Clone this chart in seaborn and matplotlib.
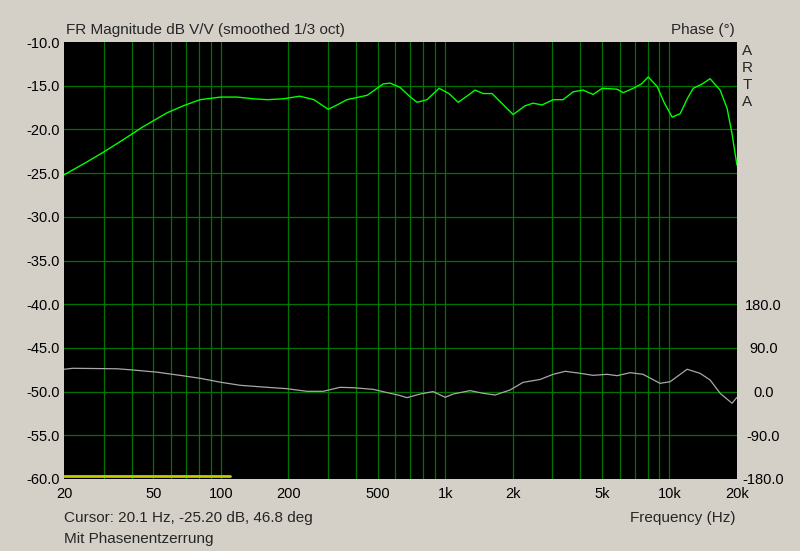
import numpy as np
import pandas as pd
import matplotlib
matplotlib.use("Agg")
import matplotlib.pyplot as plt
import seaborn as sns

# magnitude curve
mag_freq = [20, 25, 30, 36.6, 45, 57.6, 68, 80.8, 100, 118, 140, 161, 190, 225, 260, 301,
            330, 365, 449, 529, 568, 630, 700, 750, 830, 940, 1040, 1143, 1250, 1360, 1476,
            1618, 2009, 2271, 2466, 2705, 3029, 3356, 3720, 4120, 4567, 5012, 5843, 6219,
            6890, 7500, 8040, 8815, 9500, 10280, 11170, 12000, 12760, 14000, 15170, 16820,
            18070, 19000, 20000]
mag_db = [-25.2, -23.8, -22.6, -21.2, -19.7, -18.1, -17.3, -16.6, -16.3, -16.3, -16.5, -16.6,
          -16.5, -16.2, -16.6, -17.7, -17.2, -16.6, -16.1, -14.8, -14.7, -15.2, -16.3, -16.9,
          -16.6, -15.3, -15.9, -16.9, -16.2, -15.5, -15.9, -15.9, -18.3, -17.3, -17.0, -17.2,
          -16.6, -16.6, -15.7, -15.5, -16.0, -15.3, -15.4, -15.8, -15.3, -14.8, -14.0, -15.1,
          -17.0, -18.6, -18.2, -16.5, -15.3, -14.8, -14.2, -15.5, -17.6, -20.5, -24.1]

# phase curve (degrees)
ph_freq = [20, 21.9, 34.5, 40.6, 52, 65.8, 80.8, 100, 122, 161, 197, 242, 286, 340, 388,
           477, 568, 617, 676, 773, 884, 1000, 1086, 1291, 1476, 1670, 1947, 2224, 2650,
           3029, 3428, 3996, 4567, 5272, 5843, 6676, 7624, 9079, 10070, 11990, 13680,
           15170, 16820, 19010, 20000]
ph_deg = [46, 48, 47, 44.5, 40, 33.5, 27.4, 19.2, 13, 8.8, 6, 0.6, 0.6, 8.8, 8, 4.7, -3.5,
          -7, -12.5, -5, 0, -11.7, -5, 2, -3.5, -7, 3.3, 19, 25, 35.6, 41.8, 37.7, 33.5,
          35.6, 32.8, 39, 35.6, 17, 20.4, 46, 37.7, 24, -3.5, -24, -11.7]

# cursor/marker bar at the bottom
bar_freq = [20, 110]
bar_db = [-59.6, -59.6]

x_ticks = [20, 50, 100, 200, 500, 1000, 2000, 5000, 10000, 20000]
x_labels = ["20", "50", "100", "200", "500", "1k", "2k", "5k", "10k", "20k"]
grid_freqs = [30, 40, 50, 60, 70, 80, 90, 100, 200, 300, 400, 500, 600, 700, 800, 900,
              1000, 2000, 3000, 4000, 5000, 6000, 7000, 8000, 9000, 10000]
mag_ticks = [-10, -15, -20, -25, -30, -35, -40, -45, -50, -55, -60]
ph_ticks = [-180, -90, 0, 90, 180]

sns.set_theme(style="white")
plt.rcParams['font.family'] = ['Liberation Sans', 'DejaVu Sans']

bg = "#D4D0C8"
grid_c = "#007400"
fig = plt.figure(figsize=(8, 5.51), dpi=100, facecolor=bg)
ax = fig.add_axes([64 / 800, 1 - 479 / 551, 673 / 800, 437 / 551])
ax.set_facecolor("black")
ax.set_xscale("log")
ax.set_xlim(20, 20000)
ax.set_ylim(-60, -10)

for f in grid_freqs:
    ax.axvline(f, color=grid_c, lw=0.9, zorder=1)
for v in mag_ticks[1:-1]:
    ax.axhline(v, color=grid_c, lw=0.9, zorder=1)

df_mag = pd.DataFrame({"f": mag_freq, "db": mag_db})
sns.lineplot(data=df_mag, x="f", y="db", ax=ax, color="#00FF00", lw=1.0, zorder=4)
df_bar = pd.DataFrame({"f": bar_freq, "db": bar_db})
sns.lineplot(data=df_bar, x="f", y="db", ax=ax, color="#C8C800", lw=2.0, zorder=4)

# phase on a twin axis (transparent, on top)
ax2 = ax.twinx()
ax2.set_ylim(-180, 720)
ax2.set_xlim(20, 20000)
df_ph = pd.DataFrame({"f": ph_freq, "p": ph_deg})
sns.lineplot(data=df_ph, x="f", y="p", ax=ax2, color="#A8A8A8", lw=0.9, zorder=3)
ax2.patch.set_visible(False)

ax.set_xticks(x_ticks)
ax.set_xticklabels(x_labels)
ax.xaxis.set_minor_locator(matplotlib.ticker.NullLocator())
ax.set_yticks(mag_ticks)
ax.set_yticklabels([f"{v:.1f}" for v in mag_ticks])
ax2.set_yticks(ph_ticks)
ax2.set_yticklabels([f"{v:.1f}" for v in ph_ticks])
ax.set_xlabel("")
ax.set_ylabel("")
ax2.set_ylabel("")
ax2.set_xlabel("")

for a in (ax, ax2):
    a.tick_params(length=0, labelsize=10.5, colors="black", pad=3)
    for s in a.spines.values():
        s.set_visible(False)
ax.tick_params(axis="x", pad=6)
ax2.tick_params(axis="y", pad=19)
for lbl in ax2.get_yticklabels():
    lbl.set_horizontalalignment("center")

fig.text(66 / 800, 1 - 30 / 551, "FR Magnitude dB V/V (smoothed 1/3 oct)", fontsize=11,
         va="center", ha="left")
fig.text(735 / 800, 1 - 30 / 551, "Phase (°)", fontsize=11, va="center", ha="right")
for i, ch in enumerate("ARTA"):
    fig.text(747 / 800, 1 - (51 + i * 17) / 551, ch, fontsize=11, va="center", ha="center")
fig.text(64 / 800, 1 - 518 / 551, "Cursor: 20.1 Hz, -25.20 dB, 46.8 deg", fontsize=11,
         va="center", ha="left")
fig.text(64 / 800, 1 - 539 / 551, "Mit Phasenentzerrung", fontsize=11, va="center", ha="left")
fig.text(735 / 800, 1 - 518 / 551, "Frequency (Hz)", fontsize=11, va="center", ha="right")

fig.savefig("out.png", dpi=100, facecolor=bg)
